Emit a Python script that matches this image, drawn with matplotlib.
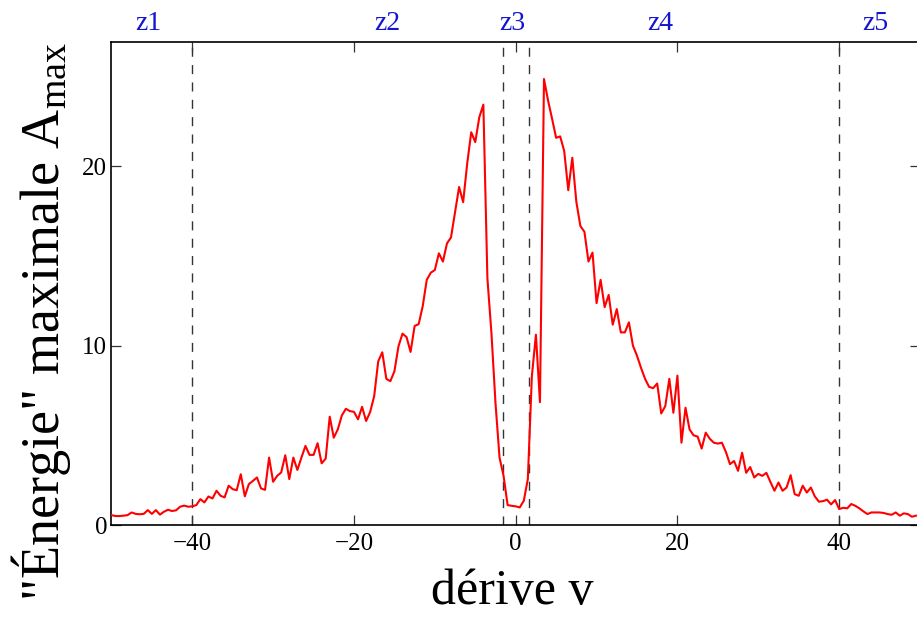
import numpy as np
import matplotlib
matplotlib.use("Agg")
import matplotlib.pyplot as plt
import matplotlib.transforms as mtransforms

plt.rcParams['font.family'] = ['Liberation Serif', 'DejaVu Serif']
plt.rcParams['mathtext.fontset'] = 'custom'
plt.rcParams['mathtext.rm'] = 'Liberation Serif'
plt.rcParams['mathtext.it'] = 'Liberation Serif:italic'

# drift grid (step 0.5 from -50 to 49.5)
derive_v = np.arange(-50.0, 50.0, 0.5)

energie_max = [
    0.55, 0.50, 0.50, 0.52, 0.55, 0.70, 0.62, 0.60, 0.62, 0.83,
    0.62, 0.83, 0.58, 0.74, 0.85, 0.78, 0.82, 1.02, 1.08, 1.02,
    1.04, 1.11, 1.44, 1.26, 1.59, 1.48, 1.91, 1.63, 1.54, 2.19,
    2.00, 1.94, 2.83, 1.60, 2.28, 2.46, 2.65, 2.04, 1.96, 3.76,
    2.41, 2.74, 2.93, 3.89, 2.56, 3.76, 3.07, 3.76, 4.41, 3.91,
    3.91, 4.56, 3.44, 3.70, 6.04, 4.87, 5.33, 6.11, 6.48, 6.35,
    6.31, 5.89, 6.59, 5.80, 6.30, 7.19, 9.13, 9.63, 8.15, 8.02,
    8.57, 9.96, 10.67, 10.48, 9.65, 11.10, 11.20, 12.20, 13.67, 14.07,
    14.22, 15.15, 14.69, 15.70, 16.04, 17.46, 18.85, 18.00, 20.15, 21.90,
    21.35, 22.74, 23.44, 13.76, 10.70, 6.81, 3.76, 2.74, 1.11, 1.07,
    1.04, 0.98, 1.35, 2.56, 8.30, 10.61, 6.85, 24.87, 23.67, 22.65,
    21.59, 21.67, 20.85, 18.67, 20.48, 18.02, 16.67, 16.35, 14.69, 15.19,
    12.37, 13.67, 12.15, 12.83, 11.17, 12.04, 10.74, 10.74, 11.30, 10.00,
    9.44, 8.76, 8.15, 7.70, 7.63, 7.89, 6.22, 6.63, 8.15, 6.26,
    8.33, 4.59, 6.54, 5.33, 5.00, 4.93, 4.26, 5.15, 4.81, 4.59,
    4.54, 4.59, 4.07, 3.39, 3.57, 3.02, 4.03, 2.91, 3.23, 2.65,
    2.85, 2.74, 2.91, 2.40, 1.91, 2.37, 1.91, 2.09, 2.78, 1.72,
    1.63, 2.19, 1.81, 2.09, 1.59, 1.30, 1.33, 1.41, 1.15, 1.39,
    0.89, 0.96, 0.93, 1.17, 1.07, 0.93, 0.76, 0.61, 0.70, 0.70,
    0.70, 0.67, 0.61, 0.57, 0.70, 0.52, 0.65, 0.61, 0.46, 0.52,
]

zone_bounds = [-40, -1.6, 1.6, 40]
zone_labels = ['z1', 'z2', 'z3', 'z4', 'z5']
zone_label_x = [-45.4, -15.9, -0.4, 17.9, 44.5]

x_ticks = [-40, -20, 0, 20, 40]
y_ticks = [0, 10, 20]

fig = plt.figure(figsize=(9.17, 6.17), dpi=100)
ax = fig.add_axes([111.4 / 917, 1 - 525 / 617, (920 - 111.4) / 917, (525 - 41.7) / 617])

ax.plot(derive_v, energie_max, color='#ff0000', lw=1.5, zorder=3)

for xb in zone_bounds:
    ax.axvline(xb, color='#333333', lw=1.0, dashes=(6.5, 6), zorder=2)

ax.set_xlim(-50, 50)
ax.set_ylim(0, 26.95)
ax.set_xticks(x_ticks)
ax.set_yticks(y_ticks)
ax.tick_params(direction='in', length=7, width=0.9, color='#333333',
               top=True, right=True, labelsize=18)
ax.tick_params(axis='x', pad=6)
ax.tick_params(axis='y', pad=3)
for s in ax.spines.values():
    s.set_linewidth(1.2)

trans = mtransforms.blended_transform_factory(ax.transData, ax.transAxes)
for lab, xl in zip(zone_labels, zone_label_x):
    ax.text(xl, 1.024, lab, transform=trans, ha='center', va='baseline',
            fontsize=20, color='#1414d2', clip_on=False)

fig.text(512 / 917, 0.004, 'dérive v', ha='center', va='bottom', fontsize=36)
fig.text(0.045, 0.479, '"Énergie" maximale A$_{\\mathrm{max}}$', rotation=90,
         ha='center', va='center', fontsize=39)

fig.savefig('out.png', dpi=100)
